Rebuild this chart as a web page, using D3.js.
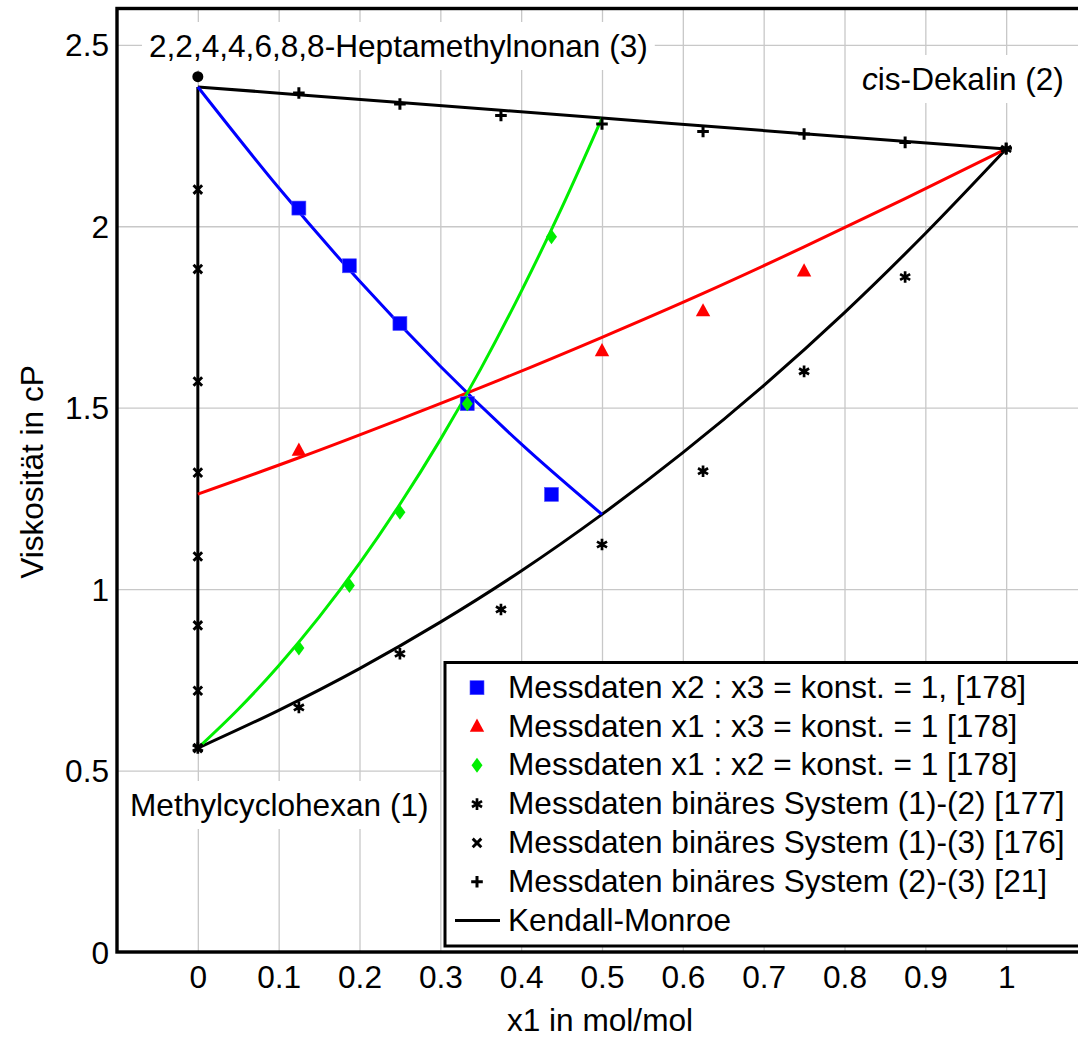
<!DOCTYPE html>
<html><head><meta charset="utf-8">
<script src="https://cdn.jsdelivr.net/npm/d3@7"></script>
<style>
html,body{margin:0;padding:0;background:#fff;}
text{font-family:"Liberation Sans",Arial,Helvetica,sans-serif;fill:#000;}
</style></head>
<body><svg id="c" width="1078" height="1038"></svg>
<script>
// ---------- data ----------
const xTickValues = [0,0.1,0.2,0.3,0.4,0.5,0.6,0.7,0.8,0.9,1];
const xTickLabels = ["0","0.1","0.2","0.3","0.4","0.5","0.6","0.7","0.8","0.9","1"];
const yTickValues = [0,0.5,1,1.5,2,2.5];
const yTickLabels = ["0","0.5","1","1.5","2","2.5"];

// measured mixtures
const blueX = [0.125,0.1875,0.25,0.3333,0.4375];
const blueY = [2.05,1.891,1.732,1.511,1.261];
const redX  = [0.125,0.3333,0.5,0.625,0.75];
const redY  = [1.382,1.51,1.656,1.766,1.876];
const greenX = [0.125,0.1875,0.25,0.3333,0.4375];
const greenY = [0.838,1.010,1.212,1.511,1.971];
// binary systems
const bin12X = [0,0.125,0.25,0.375,0.5,0.625,0.75,0.875,1];
const bin12Y = [0.562,0.674,0.822,0.944,1.123,1.325,1.600,1.860,2.213];
const bin13X = [0,0,0,0,0,0,0,0];
const bin13Y = [2.101,1.882,1.572,1.321,1.090,0.900,0.720,0.562];
const bin23X = [0.125,0.25,0.375,0.5,0.625,0.75,0.875,1];
const bin23Y = [2.367,2.337,2.305,2.282,2.261,2.254,2.231,2.215];
const pure3X = [0];
const pure3Y = [2.412];

// Kendall-Monroe curves
const km12X = [0,0.1,0.2,0.3,0.4,0.5,0.6,0.7,0.8,0.9,1];
const km12Y = [0.562,0.666,0.781,0.909,1.050,1.206,1.376,1.561,1.762,1.980,2.213];
const km23X = [0,0.25,0.5,0.75,1];
const km23Y = [2.384,2.341,2.298,2.255,2.213];
const km13X = [0,0];
const km13Y = [0.562,2.384];
const kmBlueX = [0,0.1,0.2,0.3,0.4,0.5];
const kmBlueY = [2.384,2.106,1.849,1.614,1.400,1.206];
const kmRedX = [0,0.125,0.25,0.375,0.5,0.625,0.75,0.875,1];
const kmRedY = [1.262,1.362,1.468,1.578,1.694,1.815,1.943,2.076,2.213];
const kmGreenX = [0,0.05,0.1,0.15,0.2,0.25,0.3,0.35,0.4,0.45,0.5];
const kmGreenY = [0.562,0.669,0.789,0.923,1.071,1.234,1.412,1.607,1.820,2.050,2.298];

const legendLabels = [
  "Messdaten x2 : x3 = konst. = 1, [178]",
  "Messdaten x1 : x3 = konst. = 1 [178]",
  "Messdaten x1 : x2 = konst. = 1 [178]",
  "Messdaten binäres System (1)-(2) [177]",
  "Messdaten binäres System (1)-(3) [176]",
  "Messdaten binäres System (2)-(3) [21]",
  "Kendall-Monroe"
];

// ---------- layout ----------
const svg = d3.select("#c");
const L=117, R=1087, T=8.5, B=952;
const x = d3.scaleLinear([-0.1,1.1],[L,R]);
const y = d3.scaleLinear([0,2.6],[B,T]);
const FS = 31.6;
const LW = 3;
const BLUE="#0000ff", RED="#ff0000", GREEN="#00ee00", GRID="#c8c8c8";

// grid via axes
const gx = svg.append("g").attr("transform",`translate(0,${B})`)
  .call(d3.axisBottom(x).tickValues(xTickValues).tickSizeInner(-(B-T)).tickSizeOuter(0).tickFormat(""));
const gy = svg.append("g").attr("transform",`translate(${L},0)`)
  .call(d3.axisLeft(y).tickValues(yTickValues).tickSizeInner(-(R-L)).tickSizeOuter(0).tickFormat(""));
[gx,gy].forEach(g=>{g.select(".domain").remove(); g.selectAll("line").attr("stroke",GRID).attr("stroke-width",1.3);});

// tick labels via axes
const lx = svg.append("g").attr("transform",`translate(0,${B})`)
  .call(d3.axisBottom(x).tickValues(xTickValues).tickSize(0).tickPadding(0).tickFormat((d,i)=>xTickLabels[i]));
lx.select(".domain").remove();
lx.selectAll("text").attr("font-size",FS).attr("font-family",null).attr("dy",null).attr("y",36);
const ly = svg.append("g").attr("transform",`translate(${L},0)`)
  .call(d3.axisLeft(y).tickValues(yTickValues).tickSize(0).tickPadding(0).tickFormat((d,i)=>yTickLabels[i]));
ly.select(".domain").remove();
ly.selectAll("text").attr("font-size",FS).attr("font-family",null).attr("dy",null).attr("y",11).attr("x",-8).attr("text-anchor","end");

// axis titles
svg.append("text").attr("x",600).attr("y",1031).attr("text-anchor","middle").attr("font-size",FS).text("x1 in mol/mol");
svg.append("text").attr("transform","translate(43,472) rotate(-90)").attr("text-anchor","middle").attr("font-size",FS).text("Viskosität in cP");

// component labels with white background
function label(tx, ty, parts){
  const t = svg.append("text").attr("x",tx).attr("y",ty).attr("font-size",FS);
  parts.forEach(p=>t.append("tspan").attr("font-style",p.it?"italic":null).text(p.s));
  const bb = t.node().getBBox();
  svg.insert("rect", function(){return t.node();})
    .attr("x",bb.x-7).attr("y",bb.y-6).attr("width",bb.width+14).attr("height",bb.height+12).attr("fill","#fff");
}
label(149,57,[{s:"2,2,4,4,6,8,8-Heptamethylnonan (3)"}]);
label(862,90,[{s:"c",it:true},{s:"is-Dekalin (2)"}]);
label(130,816,[{s:"Methylcyclohexan (1)"}]);

// lines
const lineGen = (xs,ys,curve)=> d3.line().x(i=>x(xs[i])).y(i=>y(ys[i])).curve(curve||d3.curveMonotoneX)(d3.range(xs.length));
const gl = svg.append("g").attr("fill","none").attr("stroke-width",LW).attr("stroke-linejoin","round");
gl.append("path").attr("d",lineGen(km13X,km13Y,d3.curveLinear)).attr("stroke","#000");
gl.append("path").attr("d",lineGen(km23X,km23Y)).attr("stroke","#000");
gl.append("path").attr("d",lineGen(km12X,km12Y)).attr("stroke","#000");
gl.append("path").attr("d",lineGen(kmBlueX,kmBlueY)).attr("stroke",BLUE);
gl.append("path").attr("d",lineGen(kmRedX,kmRedY)).attr("stroke",RED);
gl.append("path").attr("d",lineGen(kmGreenX,kmGreenY)).attr("stroke",GREEN);

// marker shapes
const M = {
  square: g=>g.append("rect").attr("x",-7).attr("y",-7).attr("width",14).attr("height",14).attr("fill",BLUE).attr("stroke","#5050ff").attr("stroke-width",0.6),
  triangle: g=>g.append("path").attr("d","M0,-8L7.2,5.2L-7.2,5.2Z").attr("fill",RED),
  diamond: g=>g.append("path").attr("d","M0,-7.5L5.5,0L0,7.5L-5.5,0Z").attr("fill",GREEN),
  asterisk: g=>g.append("path").attr("d",(()=>{let s="";[90,30,150].forEach(a=>{const r=5.8,c=Math.cos(a*Math.PI/180)*r,sn=Math.sin(a*Math.PI/180)*r;s+=`M${-c},${-sn}L${c},${sn}`;});return s;})()).attr("stroke","#000").attr("stroke-width",2.7).attr("fill","none"),
  cross: g=>g.append("path").attr("d","M-4.3,-4.3L4.3,4.3M-4.3,4.3L4.3,-4.3").attr("stroke","#000").attr("stroke-width",2.9).attr("fill","none"),
  plus: g=>g.append("path").attr("d","M-5.8,0L5.8,0M0,-5.8L0,5.8").attr("stroke","#000").attr("stroke-width",3).attr("fill","none"),
  circle: g=>g.append("circle").attr("r",5.5).attr("fill","#000")
};
function marks(xs,ys,shape){
  const g = svg.append("g");
  g.selectAll("g").data(d3.range(xs.length)).join("g")
    .attr("transform",i=>`translate(${x(xs[i])},${y(ys[i])})`)
    .each(function(){M[shape](d3.select(this));});
}
marks(bin13X,bin13Y,"cross");
marks(bin23X,bin23Y,"plus");
marks(bin12X,bin12Y,"asterisk");
marks(pure3X,pure3Y,"circle");
marks(redX,redY,"triangle");
marks(blueX,blueY,"square");
marks(greenX,greenY,"diamond");

// legend
const lg = svg.append("g");
lg.append("rect").attr("x",445).attr("y",662.5).attr("width",700).attr("height",283.5)
  .attr("fill","#fff").attr("stroke","#000").attr("stroke-width",3);
const legShapes = ["square","triangle","diamond","asterisk","cross","plus",null];
legendLabels.forEach((lab,i)=>{
  const cy = 687.7 + i*38.8;
  if(legShapes[i]){
    const g = lg.append("g").attr("transform",`translate(477,${cy})`);
    M[legShapes[i]](g);
  } else {
    lg.append("line").attr("x1",455).attr("x2",500).attr("y1",cy).attr("y2",cy).attr("stroke","#000").attr("stroke-width",LW);
  }
  lg.append("text").attr("x",508).attr("y",cy+10).attr("font-size",FS).text(lab);
});

// frame
svg.append("rect").attr("x",L).attr("y",T).attr("width",R-L).attr("height",B-T)
  .attr("fill","none").attr("stroke","#000").attr("stroke-width",3.4);
</script></body></html>
